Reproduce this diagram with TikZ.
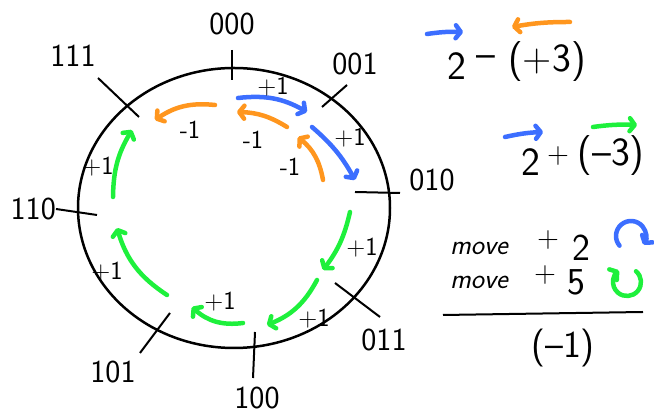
\documentclass[tikz,border=0pt]{standalone}
\usepackage{fontspec}
\usepackage{xcolor}
\usepackage{tikz}
\usetikzlibrary{arrows.meta}
\definecolor{penblue}{RGB}{60,110,255}
\definecolor{penorange}{RGB}{255,150,30}
\definecolor{pengreen}{RGB}{30,240,60}

\begin{document}
\begin{tikzpicture}[x=1pt, y=1pt, font=\sffamily,
  stroke/.style={line width=4.5pt, line cap=round,
    -{Straight Barb[length=5pt, width=13pt, line join=round, line cap=round]}},
  tick/.style={line width=2pt},
  state/.style={font=\sffamily\fontsize{32}{36}\selectfont},
  amount/.style={font=\sffamily\fontsize{26}{30}\selectfont, inner sep=0pt},
  big/.style={font=\sffamily\fontsize{40}{44}\selectfont, inner sep=0pt},
  mid/.style={font=\sffamily\fontsize{38}{42}\selectfont, inner sep=0pt},
  sign/.style={font=\sffamily\fontsize{30}{34}\selectfont, inner sep=0pt},
  word/.style={font=\sffamily\itshape\fontsize{28}{32}\selectfont, inner sep=0pt}]
  \useasboundingbox (0,0) rectangle (654,414);
  % the ring of 3-bit values
  \draw[line width=2.5pt] (234,206) ellipse [x radius=156, y radius=140];
  \node[state] (s000) at (232,390) {000};
  \node[state] (s001) at (355,350) {001};
  \node[state] (s010) at (432,234) {010};
  \node[state] (s011) at (384,74) {011};
  \node[state] (s100) at (257,16) {100};
  \node[state] (s101) at (113,42) {101};
  \node[state, anchor=east, inner sep=0pt] (s110) at (56,205) {110};
  \node[state] (s111) at (73,358) {111};
  \draw[tick] (232,364) -- (232,334);
  \draw[tick] (322,307) -- (347,329);
  \draw[tick] (355,222) -- (400,221);
  \draw[tick] (335,131) -- (380,97);
  \draw[tick] (255,82) -- (253,36);
  \draw[tick] (170,101) -- (140,61);
  \draw[tick] (s110.east) -- (97,199);
  \draw[tick] (98,336) -- (139,297);
  % +2 moves
  \draw[stroke, penblue] (238,316) to[bend left=18] (307,302);
  \draw[stroke, penblue] (312,287) to[bend left=10] (355,234);
  \node[amount] (b1) at (273,327) {+1};
  \node[amount] (b2) at (350,276) {+1};
  % -1 moves
  \draw[stroke, penorange] (215,309) to[bend right=20] (155,294);
  \draw[stroke, penorange] (287,287) to[bend right=15] (237,302);
  \draw[stroke, penorange] (323,234) to[bend right=20] (298,277);
  \node[amount] (o1) at (190,284) {-1};
  \node[amount] (o2) at (253,274) {-1};
  \node[amount] (o3) at (290,247) {-1};
  % +5 moves
  \draw[stroke, pengreen] (350,202) to[bend left=12] (323,144);
  \draw[stroke, pengreen] (317,134) to[bend left=20] (267,89);
  \draw[stroke, pengreen] (243,91) to[bend left=25] (192,107);
  \draw[stroke, pengreen] (167,119) to[bend left=20] (117,186);
  \draw[stroke, pengreen] (113,217) to[bend left=15] (132,284);
  \node[amount] (g1) at (362,166) {+1};
  \node[amount] (g2) at (314,95) {+1};
  \node[amount] (g3) at (220,112) {+1};
  \node[amount] (g4) at (107,142) {+1};
  \node[amount] (g5) at (98,247) {+1};
  % 2 - (+3)
  \node[big] (a2) at (457,348) {2};
  \node[big] (aminus) at (486,352) {–};
  \node[big] (a3) at (547,352) {(+3)};
  \draw[stroke, penblue] (427,380) to[bend left=5] (463,382);
  \draw[stroke, penorange] (570,392) to[bend right=5] (512,387);
  % 2 + (-3)
  \node[big] (c2) at (531,252) {2};
  \node[sign] (cplus) at (558,258) {+};
  \node[big] (c3) at (611,258) {(–3)};
  \draw[stroke, penblue] (505,277) to[bend left=5] (543,282);
  \draw[stroke, pengreen] (593,287) to[bend left=5] (637,289);
  % move +2, move +5
  \node[word] (m1) at (479,166) {move};
  \node[sign] (p1) at (548,174) {+};
  \node[mid] (n2) at (581,166) {2};
  \draw[stroke, penblue] (631,178) ++(220:15) arc[start angle=220, end angle=-35, radius=15];
  \node[word] (m2) at (479,132) {move};
  \node[sign] (p2) at (545,139) {+};
  \node[mid] (n5) at (576,132) {5};
  \draw[stroke, pengreen] (627,132) ++(50:14) arc[start angle=50, end angle=-235, radius=14];
  \draw[line width=2pt] (443,99) -- (643,102);
  \node[mid] (res) at (563,66) {(–1)};
\end{tikzpicture}
\end{document}
